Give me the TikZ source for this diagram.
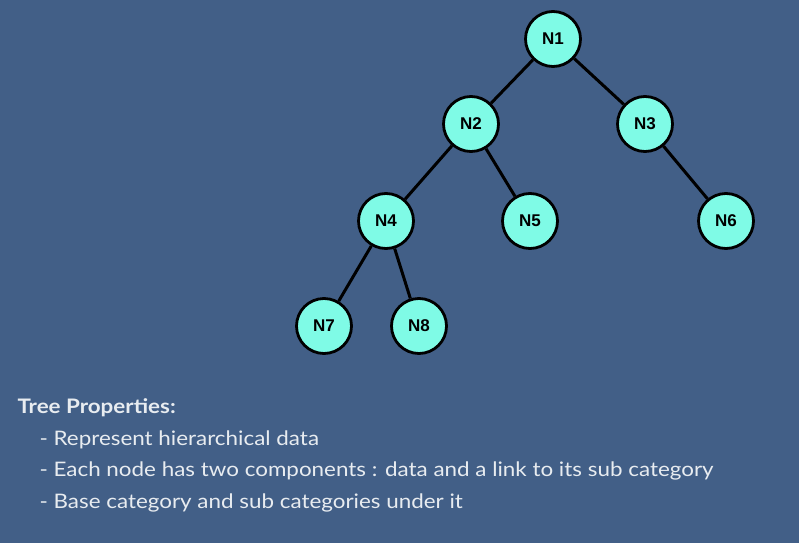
\documentclass[tikz,border=0pt]{standalone}
\usepackage{fontspec}
\setmainfont{Lato}[FakeStretch=1.12]
\newfontfamily\nodefont{Liberation Sans}
\usetikzlibrary{positioning}
\definecolor{slidebg}{HTML}{425F87}
\definecolor{nodefill}{HTML}{7FFBE6}
\definecolor{notetext}{HTML}{E8ECF0}
\tikzset{
every tree node/.style={circle, draw=black, line width=2.8pt, fill=nodefill, minimum size=55pt, inner sep=0pt, font=\nodefont\bfseries\fontsize{17}{19}\selectfont}, % looks of every node in the tree
tree edge/.style={line width=3pt, black}, % edges between parent and child
note/.style={anchor=west, text=notetext, font=\fontsize{20}{23}\selectfont}, % text lines below the tree
}
\begin{document}
\begin{tikzpicture}[x=1pt, y=-1pt]
                \fill[slidebg] (0,0) rectangle (799,543);
                \node[every tree node] (n1) at (553,39) {N1};
                \node[every tree node] (n2) at (471,124) {N2};
                \node[every tree node] (n3) at (645,124) {N3};
                \node[every tree node] (n4) at (386,221) {N4};
                \node[every tree node] (n5) at (530,221) {N5};
                \node[every tree node] (n6) at (726,221) {N6};
                \node[every tree node] (n7) at (324,326) {N7};
                \node[every tree node] (n8) at (419,326) {N8};
                \draw[tree edge]
                    (n1) -- (n2)
                    (n1) -- (n3)
                    (n2) -- (n4)
                    (n2) -- (n5)
                    (n3) -- (n6)
                    (n4) -- (n7)
                    (n4) -- (n8)
                    ;
                \node[note, font=\bfseries\fontsize{20}{23}\selectfont] (title) at (14,408) {Tree Properties:};
                \node[note] (line1) at (36,440) {- Represent hierarchical data};
                \node[note] (line2) at (36,471) {- Each node has two components : data and a link to its sub category};
                \node[note] (line3) at (36,503) {- Base category and sub categories under it};
                \end{tikzpicture}
\end{document}
